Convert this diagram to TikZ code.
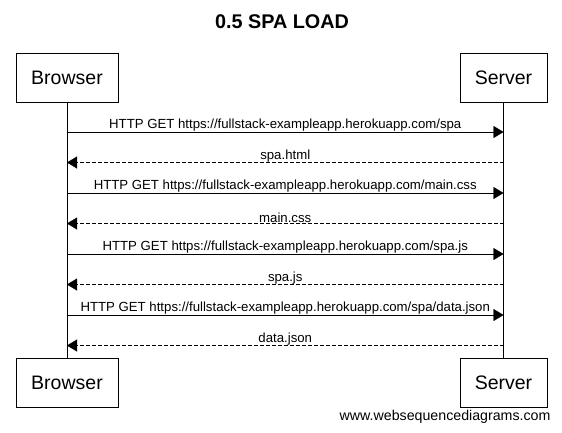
\documentclass[tikz,border=0pt]{standalone}
\usepackage{fontspec}
\setmainfont{Liberation Sans}
\usetikzlibrary{arrows.meta,positioning}

\begin{document}
\begin{tikzpicture}[x=1pt,y=-1pt,
  actor/.style={draw,inner xsep=15pt,minimum height=49pt,font=\fontsize{19.5}{23}\selectfont},
  call/.style={-{Triangle[length=10pt,width=12pt]}},
  reply/.style={call,dash pattern=on 4pt off 2pt},
  msglabel/.style={above=-3pt,font=\fontsize{13.2}{15}\selectfont}]
\useasboundingbox (0,0) rectangle (562,432);
\node[font=\bfseries\fontsize{19.8}{23}\selectfont] (title) at (282,21.5) {0.5 SPA LOAD};
% participants
\node[actor] (browser) at (67,77.5) {Browser};
\node[actor] (server) at (503.5,77.5) {Server};
\node[actor] (browserEnd) at (67,382.5) {Browser};
\node[actor] (serverEnd) at (503.5,382.5) {Server};
\draw (browser.south) -- (browserEnd.north);
\draw (server.south) -- (serverEnd.north);
% messages
\foreach \i/\style/\txt in {0/call/{HTTP GET https://fullstack-exampleapp.herokuapp.com/spa},
  1/reply/{spa.html},
  2/call/{HTTP GET https://fullstack-exampleapp.herokuapp.com/main.css},
  3/reply/{main.css},
  4/call/{HTTP GET https://fullstack-exampleapp.herokuapp.com/spa.js},
  5/reply/{spa.js},
  6/call/{HTTP GET https://fullstack-exampleapp.herokuapp.com/spa/data.json},
  7/reply/{data.json}}{
  \coordinate (b\i) at (67,132+30.5*\i);
  \coordinate (s\i) at (503.5,132+30.5*\i);
  \ifodd\i
    \draw[\style] (s\i) -- (b\i) node[midway,msglabel]{\txt};
  \else
    \draw[\style] (b\i) -- (s\i) node[midway,msglabel]{\txt};
  \fi
}
\node[anchor=east,font=\fontsize{14.2}{17}\selectfont] (credit) at (554,416.5) {www.websequencediagrams.com};
\end{tikzpicture}
\end{document}
